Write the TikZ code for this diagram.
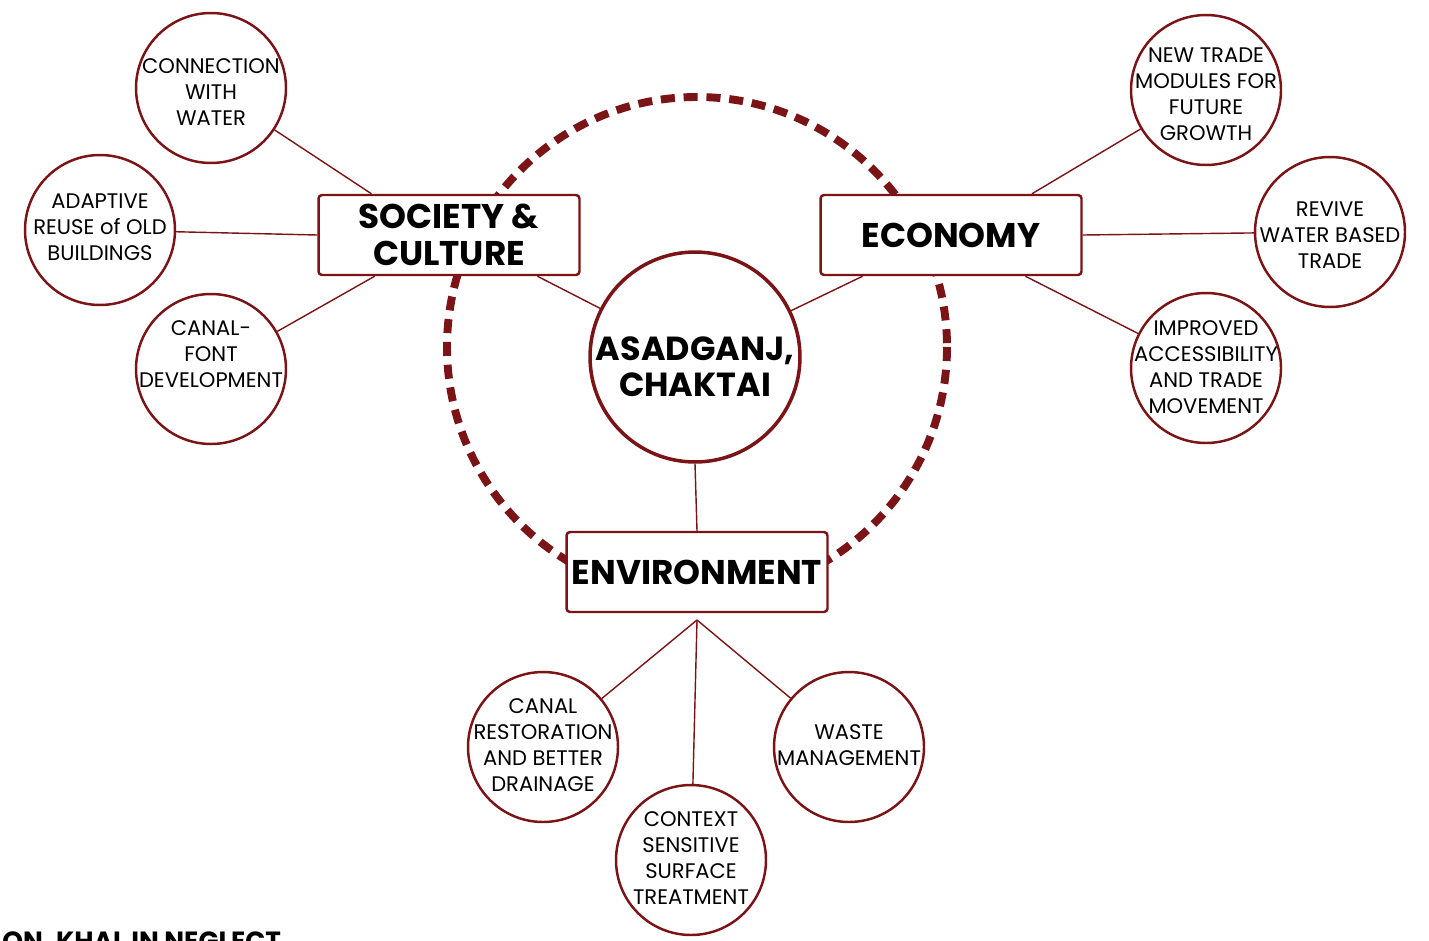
\documentclass[tikz,border=0pt]{standalone}
\usepackage{fontspec}
\setmainfont{Poppins}
\usepackage{tikz}
\usetikzlibrary{positioning}
\definecolor{khal}{rgb}{0.48, 0.08, 0.09}
\newcommand{\leaffont}{\fontsize{12}{14.7}\selectfont}
\newcommand{\hubfont}{\bfseries\fontsize{19.5}{21}\selectfont}
\tikzset{leaf/.style = {circle, draw=khal, line width=1.4pt, fill=white,
                        minimum size=3cm, inner sep=0pt},
         leaftext/.style = {align=center, font=\leaffont, inner sep=0pt},
         hub/.style = {draw=khal, line width=1.4pt, rounded corners=2pt, fill=white,
                       minimum width=5.22cm, minimum height=1.6cm, inner sep=0pt,
                       align=center, font=\hubfont},
         link/.style = {draw=khal, line width=0.8pt}}

\begin{document}
\begin{tikzpicture}[x=0.02cm, y=-0.02cm]
    \fill [white] (0, 0) rectangle (1429, 940);
    \clip (0, 0) rectangle (1429, 940);

    % dashed ring behind the three themes
    \draw [khal, line width=4.5pt, dash pattern=on 8pt off 5pt] (697, 347) circle [radius=250];

    \node [circle, draw=khal, line width=2pt, fill=white, minimum size=4.2cm, inner sep=0pt,
           label={[align=center, yshift=-5.5pt, font=\bfseries\fontsize{19}{21}\selectfont]center:ASADGANJ,\\CHAKTAI}]
          (centre) at (695, 357) {};

    \node [hub] (society) at (449, 235) {SOCIETY \&\\CULTURE};
    \node [hub] (economy) at (951, 235) {ECONOMY};
    \node [hub] (environment) at (697, 572) {ENVIRONMENT};

    \node [leaf, label={[leaftext, yshift=-2.3pt]center:CONNECTION\\WITH\\WATER}] (water) at (211, 88) {};
    \node [leaf, label={[leaftext, yshift=1.7pt]center:ADAPTIVE\\REUSE of OLD\\BUILDINGS}] (reuse) at (100, 230) {};
    \node [leaf, label={[leaftext, yshift=8.5pt]center:CANAL-\\FONT\\DEVELOPMENT}] (canalfont) at (211, 369) {};

    \node [leaf, label={[leaftext, yshift=-2.3pt]center:NEW TRADE\\MODULES FOR\\FUTURE\\GROWTH}] (newtrade) at (1206, 90) {};
    \node [leaf, label={[leaftext, yshift=-1.7pt]center:REVIVE\\WATER BASED\\TRADE}] (revive) at (1330, 232) {};
    \node [leaf, label={[leaftext, yshift=0.6pt]center:IMPROVED\\ACCESSIBILITY\\AND TRADE\\MOVEMENT}] (access) at (1206, 368) {};

    \node [leaf, label={[leaftext, yshift=1.1pt]center:CANAL\\RESTORATION\\AND BETTER\\DRAINAGE}] (canalrest) at (543, 747) {};
    \node [leaf, label={[leaftext, yshift=1.1pt]center:WASTE\\MANAGEMENT}] (waste) at (849, 747) {};
    \node [leaf, label={[leaftext, yshift=1.1pt]center:CONTEXT\\SENSITIVE\\SURFACE\\TREATMENT}] (context) at (691, 860) {};

    \coordinate (fan) at (697, 620);

    \draw [link] (society.152) -- (water);
    \draw [link] (society.west) -- (reuse);
    \draw [link] (society.209) -- (canalfont);
    \draw [link] (society.335) -- (centre);
    \draw [link] (economy.205) -- (centre);
    \draw [link] (economy.27) -- (newtrade);
    \draw [link] (economy.east) -- (revive);
    \draw [link] (economy.331) -- (access);
    \draw [link] (centre.south) -- (environment.north);
    \draw [link] (fan) -- (canalrest);
    \draw [link] (fan) -- (context);
    \draw [link] (fan) -- (waste);

    \node [anchor=base west, font=\bfseries\fontsize{15}{18}\selectfont, inner sep=0pt]
          (caption) at (2, 950) {ON, KHAL IN NEGLECT};
\end{tikzpicture}
\end{document}
